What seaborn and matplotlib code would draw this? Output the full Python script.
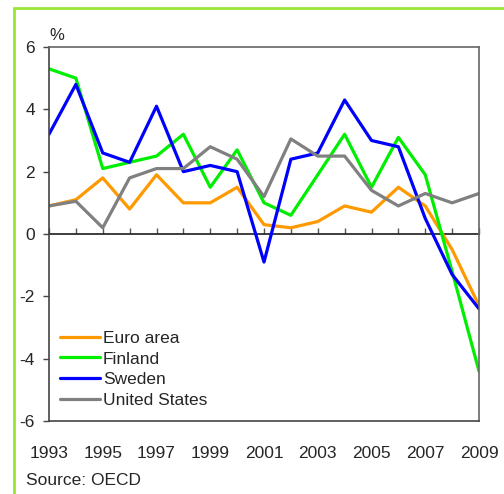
import matplotlib
matplotlib.use("Agg")
import matplotlib.pyplot as plt
import matplotlib.patches as mpatches
import pandas as pd
import seaborn as sns

YEARS = list(range(1993, 2010))
SERIES = ["Euro area", "Finland", "Sweden", "United States"]
EURO_AREA = [0.9, 1.1, 1.8, 0.8, 1.9, 1.0, 1.0, 1.5, 0.3, 0.2, 0.4, 0.9, 0.7, 1.5, 0.9, -0.5, -2.3]
FINLAND = [5.3, 5.0, 2.1, 2.3, 2.5, 3.2, 1.5, 2.7, 1.0, 0.6, 1.9, 3.2, 1.5, 3.1, 1.9, -1.2, -4.4]
SWEDEN = [3.2, 4.8, 2.6, 2.3, 4.1, 2.0, 2.2, 2.0, -0.9, 2.4, 2.6, 4.3, 3.0, 2.8, 0.5, -1.3, -2.4]
UNITED_STATES = [0.9, 1.05, 0.2, 1.8, 2.1, 2.1, 2.8, 2.4, 1.2, 3.05, 2.5, 2.5, 1.4, 0.9, 1.3, 1.0, 1.3]
COLORS = ["#ff9900", "#00ee00", "#0000ff", "#808080"]
X_LABELS = list(range(1993, 2010, 2))
Y_TICKS = [-6, -4, -2, 0, 2, 4, 6]


def main():
    sns.set_theme(style="white")
    plt.rcParams["font.family"] = ["Liberation Sans", "DejaVu Sans"]

    frames = []
    for name, values in zip(SERIES, [EURO_AREA, FINLAND, SWEDEN, UNITED_STATES]):
        frames.append(pd.DataFrame({"year": YEARS, "value": values, "series": name}))
    df = pd.concat(frames, ignore_index=True)

    fig = plt.figure(figsize=(5.04, 4.94), dpi=100)
    ax = fig.add_axes([49 / 504, 1 - 421 / 494, 430 / 504, 374 / 494])

    sns.lineplot(data=df, x="year", y="value", hue="series", hue_order=SERIES,
                 palette=COLORS, linewidth=2.3, ax=ax)

    ax.set_xlim(YEARS[0], YEARS[-1])
    ax.set_ylim(-6, 6)
    ax.set_xlabel("")
    ax.set_ylabel("")

    ax.set_yticks(Y_TICKS)
    ax.set_yticklabels([str(v) for v in Y_TICKS])
    ax.tick_params(axis="y", direction="out", length=4, width=1, color="#444444",
                   pad=6, labelsize=12.5, left=True)
    ax.set_xticks(X_LABELS)
    ax.tick_params(axis="x", length=0, pad=18, labelsize=12.5, bottom=True)

    for side in ["left", "bottom"]:
        ax.spines[side].set_color("#444444")
        ax.spines[side].set_linewidth(1.2)
    for side in ["top", "right"]:
        ax.spines[side].set_color("#666666")
        ax.spines[side].set_linewidth(1.2)

    # zero line with yearly ticks
    zero = ax.secondary_xaxis(0.5)
    zero.set_xticks(YEARS)
    zero.set_xticklabels([])
    zero.tick_params(direction="out", length=4, width=1, color="#555555")
    zero.spines["bottom"].set_color("#555555")
    zero.spines["bottom"].set_linewidth(1.2)

    leg = ax.legend(loc="upper left", bbox_to_anchor=(0.01, 0.26), frameon=False,
                    fontsize=12.5, handlelength=2.3, handletextpad=0.15,
                    labelspacing=0.32, borderaxespad=0)
    for line in leg.get_lines():
        line.set_linewidth(2.3)

    ax.text(0, 1.012, "%", transform=ax.transAxes, ha="left", va="bottom", fontsize=12)
    fig.text(26 / 504, 1 - 485 / 494, "Source: OECD", ha="left", va="baseline", fontsize=12.5)

    border = mpatches.Rectangle((14 / 504, -0.1), 1.2, 1.1 - 8 / 494, transform=fig.transFigure,
                                fill=False, edgecolor="#99e633", linewidth=2)
    fig.add_artist(border)

    fig.savefig("out.png", dpi=100)
    plt.close(fig)


if __name__ == "__main__":
    main()
